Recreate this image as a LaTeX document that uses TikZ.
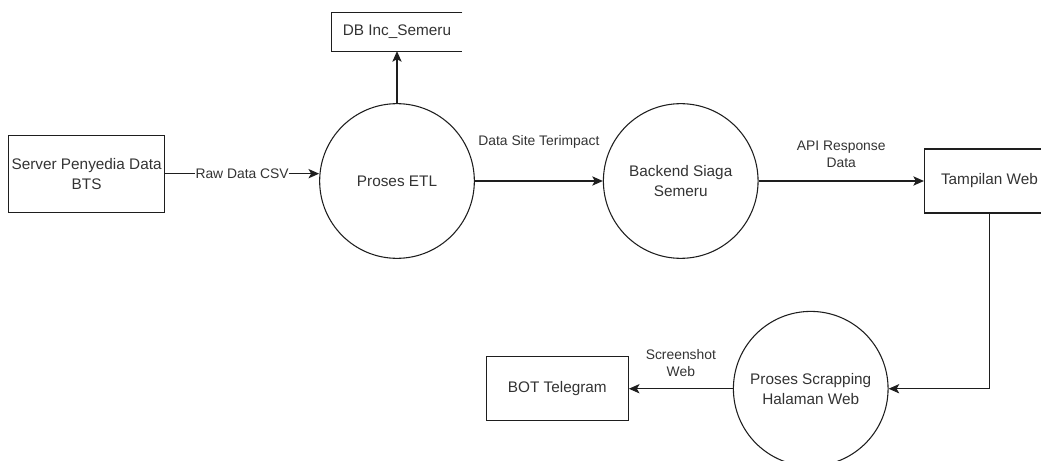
\documentclass[tikz,border=0pt]{standalone}
\usepackage{fontspec}
\setmainfont{Liberation Sans}
\usetikzlibrary{positioning,arrows.meta,calc}
\definecolor{textgray}{RGB}{51,51,51}
\definecolor{linegray}{RGB}{30,30,30}

\begin{document}
\begin{tikzpicture}[
    every node/.style={font=\fontsize{11.5}{15}\selectfont,text=textgray,align=center},
    process/.style={draw=linegray,circle,minimum size=116pt,inner sep=0pt,line width=0.8pt},
    entity/.style={draw=linegray,rectangle,inner sep=0pt,line width=0.8pt},
    store/.style={rectangle,inner sep=0pt,minimum width=97.5pt,minimum height=28.5pt},
    flow/.style={-{Stealth[length=8pt,width=7pt,inset=2pt]},line width=0.8pt,draw=linegray},
    flowlabel/.style={font=\fontsize{10.4}{12.75}\selectfont,inner sep=0.5pt},
    node distance=39pt,
  ]
  \useasboundingbox (-297.75pt,-209.25pt) rectangle (483pt,135.75pt);
  \clip (-297.75pt,-209.25pt) rectangle (483pt,135.75pt);

  % processes
  \node[process] (etl) at (0,0) {Proses ETL};
  \node[process] (backend) [right=96pt of etl] {Backend Siaga\\Semeru};
  \node[process] (scrap) [below=39pt of backend,xshift=97.5pt] {Proses Scrapping\\Halaman Web};

  % entities and store
  \node[entity,minimum width=117pt,minimum height=57.75pt] (server) [left=115.5pt of etl,yshift=5.5pt] {Server Penyedia Data\\BTS};
  \node[entity,minimum width=97.5pt,minimum height=48pt] (web) [right=124pt of backend] {Tampilan Web};
  \node[entity,minimum width=106.5pt,minimum height=48pt] (bot) [left=78pt of scrap] {BOT Telegram};
  \node[store] (db) [above=of etl] {DB Inc\_Semeru};
  \draw[draw=linegray,line width=0.8pt] (db.north east) -- (db.north west) -- (db.south west) -- (db.south east);

  % flows
  \draw[flow] (server.east) -- (server.east -| etl.west) node[midway,flowlabel,fill=white] {Raw Data CSV};
  \draw[flow] (etl) -- (db);
  \draw[flow] (etl) -- (backend) node[midway,flowlabel,yshift=29pt] {Data Site Terimpact};
  \draw[flow] (backend) -- (web) node[midway,flowlabel,yshift=20pt] {API Response\\Data};
  \draw[flow] (web.south) |- (scrap.east);
  \draw[flow] (scrap) -- (bot) node[midway,flowlabel,yshift=19pt] {Screenshot\\Web};
\end{tikzpicture}
\end{document}
